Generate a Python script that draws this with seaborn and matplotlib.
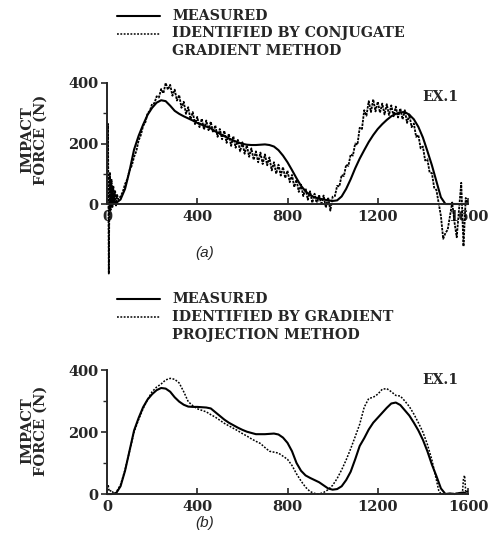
import numpy as np
import pandas as pd
import matplotlib
matplotlib.use("Agg")
import matplotlib.pyplot as plt
from matplotlib.lines import Line2D
import seaborn as sns

# ---------------- data ----------------
# Panel (a): measured force
a_meas_t = [0, 20, 40, 60, 80, 100, 120, 140, 160, 180, 200, 220, 240, 260, 280, 300, 320, 340,
            360, 380, 400, 420, 440, 460, 480, 500, 520, 540, 560, 580, 600, 620, 640, 660, 680,
            700, 720, 740, 760, 780, 800, 820, 840, 860, 880, 900, 920, 940, 960, 980, 1000,
            1020, 1040, 1060, 1080, 1100, 1120, 1140, 1160, 1180, 1200, 1220, 1240, 1260, 1280,
            1300, 1320, 1340, 1360, 1380, 1400, 1420, 1440, 1460, 1480, 1500, 1550, 1600]
a_meas_f = [0, 0, 3, 15, 50, 110, 180, 225, 262, 295, 318, 335, 343, 340, 325, 308, 298, 290,
            283, 276, 268, 262, 256, 250, 240, 232, 225, 217, 210, 204, 199, 196, 195, 195, 196,
            197, 195, 190, 178, 160, 138, 112, 85, 60, 42, 30, 22, 18, 15, 12, 10,
            12, 25, 50, 82, 118, 150, 178, 205, 228, 248, 264, 278, 290, 298,
            303, 304, 295, 280, 255, 220, 175, 128, 75, 22, 0, 0, 0]

# Panel (a): identified by conjugate gradient method (noisy)
a_iden_t_early = [0, 2, 4, 6, 8, 10, 13, 16, 20, 24, 28, 32, 36, 40, 45, 50, 55]
a_iden_f_early = [0, 120, 265, 60, -230, -40, 105, -20, 80, -10, 60, 5, 45, -5, 30, 15, 20]
a_iden_f_main = [  # t = 60 ... 1600 every 10
    25, 40, 66, 82, 112, 127, 156, 175, 210, 228, 258, 270, 300, 308, 331, 333, 356, 352, 380, 366,
    400, 378, 394, 358, 378, 342, 360, 318, 338, 298, 320, 280, 304, 264, 288, 254, 282, 246, 276, 244,
    272, 236, 260, 222, 248, 214, 242, 202, 232, 192, 224, 186, 212, 174, 204, 166, 194, 156, 184, 146,
    174, 138, 170, 132, 164, 128, 154, 111, 138, 100, 130, 94, 122, 86, 110, 72, 96, 56, 80, 40,
    64, 26, 52, 14, 42, 4, 34, 0, 30, -4, 28, -12, 22, -22, 24, 26, 60, 58, 96, 92,
    130, 126, 164, 160, 200, 196, 252, 248, 310, 292, 340, 304, 346, 306, 338, 302, 332, 296, 330, 294,
    326, 290, 322, 286, 316, 280, 310, 268, 296, 254, 266, 222, 228, 184, 190, 144, 148, 104, 102, 54,
    46, 4, -40, -115, -96, -85, -40, 5, -60, -110, -20, 70, -140, 20, 0]

# Panel (b): measured force
b_meas_t = [0, 20, 40, 60, 80, 100, 120, 140, 160, 180, 200, 220, 240, 260, 280, 300, 320, 340,
            360, 380, 400, 420, 440, 460, 480, 500, 520, 540, 560, 580, 600, 620, 640, 660, 680,
            700, 720, 740, 760, 780, 800, 820, 840, 860, 880, 900, 920, 940, 960, 980, 1000,
            1020, 1040, 1060, 1080, 1100, 1120, 1140, 1160, 1180, 1200, 1220, 1240, 1260, 1280,
            1300, 1320, 1340, 1360, 1380, 1400, 1420, 1440, 1460, 1480, 1500, 1520, 1540, 1560,
            1580, 1600]
b_meas_f = [0, 0, 2, 25, 75, 140, 205, 245, 280, 305, 322, 335, 342, 340, 330, 312, 298, 288,
            282, 281, 281, 280, 279, 276, 264, 252, 240, 230, 222, 214, 207, 201, 197, 193, 193,
            193, 194, 195, 192, 182, 165, 138, 100, 75, 60, 52, 45, 38, 28, 18, 14,
            16, 25, 45, 72, 112, 155, 180, 208, 230, 246, 262, 278, 292, 295,
            287, 270, 253, 230, 205, 175, 138, 95, 58, 18, 0, 2, 0, 3,
            5, 0]

# Panel (b): identified by gradient projection method
b_iden_t = [0, 5, 10, 20, 30, 40, 60, 80, 100, 120, 140, 160, 180, 200, 220, 240, 260, 280, 300,
            320, 340, 360, 380, 400, 420, 440, 460, 480, 500, 520, 540, 560, 580, 600, 620, 640,
            660, 680, 700, 720, 740, 760, 780, 800, 820, 840, 860, 880, 900, 920, 940, 960, 980,
            1000, 1020, 1040, 1060, 1080, 1100, 1120, 1140, 1160, 1180, 1200, 1220, 1240, 1260,
            1280, 1300, 1320, 1340, 1360, 1380, 1400, 1420, 1440, 1460, 1470, 1480, 1500, 1560,
            1575, 1580, 1585, 1590, 1600]
b_iden_f = [0, 30, 8, 12, 2, 5, 30, 78, 138, 200, 240, 275, 305, 330, 345, 355, 368, 373, 370,
            358, 330, 298, 285, 275, 270, 265, 256, 248, 238, 228, 220, 212, 204, 195, 187, 178,
            170, 163, 150, 138, 135, 132, 122, 112, 92, 65, 42, 22, 8, 2, 0, 5, 14,
            28, 50, 78, 110, 146, 185, 225, 280, 308, 312, 322, 338, 340, 330,
            318, 316, 300, 282, 258, 230, 200, 160, 110, 45, 12, 0, 0, 2,
            0, 50, 60, 5, 10]

x_ticks = [0, 400, 800, 1200, 1600]
y_ticks = [0, 200, 400]
legend_a = ["MEASURED", "IDENTIFIED BY CONJUGATE", "GRADIENT METHOD"]
legend_b = ["MEASURED", "IDENTIFIED BY GRADIENT", "PROJECTION METHOD"]
y_label = "IMPACT\nFORCE (N)"

# ---------------- figure ----------------
sns.set_theme(style="ticks")
plt.rcParams["font.family"] = ["DejaVu Serif"]
plt.rcParams["font.weight"] = "bold"

W, H = 499, 550
fig = plt.figure(figsize=(W / 100, H / 100), dpi=100)
fig.patch.set_facecolor("white")


def ax_rect(left_px, right_px, top_px, bottom_px):
    return [left_px / W, 1 - bottom_px / H, (right_px - left_px) / W, (bottom_px - top_px) / H]


ax_a = fig.add_axes(ax_rect(107, 468, 83, 276.6))
ax_b = fig.add_axes(ax_rect(107, 468, 370, 496.5))

a_iden_t = a_iden_t_early + list(range(60, 1601, 10))
a_iden_f = a_iden_f_early + a_iden_f_main

df_a_m = pd.DataFrame({"t": a_meas_t, "f": a_meas_f})
df_a_i = pd.DataFrame({"t": a_iden_t, "f": a_iden_f})
df_b_m = pd.DataFrame({"t": b_meas_t, "f": b_meas_f})
df_b_i = pd.DataFrame({"t": b_iden_t, "f": b_iden_f})

dotted = (0, (1.2, 1.0))
dense_dotted = (0, (1.4, 0.6))
for ax, dm, di, ls, lwi in [(ax_a, df_a_m, df_a_i, dense_dotted, 1.3),
                            (ax_b, df_b_m, df_b_i, dotted, 1.1)]:
    sns.lineplot(data=dm, x="t", y="f", ax=ax, color="black", lw=1.5,
                 estimator=None, sort=False, clip_on=False)
    sns.lineplot(data=di, x="t", y="f", ax=ax, color="black", lw=lwi,
                 linestyle=ls, estimator=None, sort=False, clip_on=False)

ax_a.set_ylim(-240, 400)
ax_b.set_ylim(-8, 400)

for ax in (ax_a, ax_b):
    ax.set_facecolor("none")
    ax.set_xlim(0, 1600)
    ax.set_xlabel("")
    ax.set_ylabel("")
    ax.spines["top"].set_visible(False)
    ax.spines["right"].set_visible(False)
    ax.spines["left"].set_bounds(0, 400)
    ax.spines["bottom"].set_position(("data", 0))
    ax.spines["left"].set_linewidth(1.4)
    ax.spines["bottom"].set_linewidth(1.4)
    ax.set_xticks(x_ticks)
    ax.set_xticklabels([str(v) for v in x_ticks])
    ax.set_yticks(y_ticks)
    ax.set_yticklabels([str(v) for v in y_ticks])
    ax.set_yticks([100, 300], minor=True)
    ax.tick_params(axis="x", direction="in", length=4, width=1.2, pad=4, labelsize=10.5)
    ax.tick_params(axis="y", direction="out", length=4, width=1.2, pad=2, labelsize=10.5)
    ax.tick_params(axis="y", which="minor", direction="out", length=3, width=1.0)
    for lab in ax.get_xticklabels() + ax.get_yticklabels():
        lab.set_fontweight("bold")

# EX.1 labels
fig.text(440 / W, 1 - 97 / H, "EX.1", ha="center", va="center", fontsize=10, fontweight="bold")
fig.text(440 / W, 1 - 380 / H, "EX.1", ha="center", va="center", fontsize=10, fontweight="bold")

# y labels
for yc in (140, 431):
    fig.text(34 / W, 1 - yc / H, y_label, rotation=90, ha="center", va="center",
             multialignment="center", fontsize=10.5, fontweight="bold", linespacing=0.95)

# panel captions
fig.text(205 / W, 1 - 253 / H, "(a)", ha="center", va="center", fontsize=11,
         family="Liberation Sans", style="italic", fontweight="normal")
fig.text(205 / W, 1 - 523 / H, "(b)", ha="center", va="center", fontsize=11,
         family="Liberation Sans", style="italic", fontweight="normal")


# legends
def draw_legend(rows_px, texts):
    fig.add_artist(Line2D([117 / W, 160 / W], [1 - rows_px[0] / H] * 2, color="black", lw=1.5,
                          transform=fig.transFigure))
    fig.add_artist(Line2D([117 / W, 160 / W], [1 - rows_px[1] / H] * 2, color="black", lw=1.1,
                          linestyle=dotted, transform=fig.transFigure))
    for r, t in zip(rows_px, texts):
        fig.text(172 / W, 1 - r / H, t, ha="left", va="center", fontsize=10.3, fontweight="bold")


draw_legend([16, 33.5, 51], legend_a)
draw_legend([299, 317, 335], legend_b)

fig.savefig("out.png", dpi=100, facecolor="white")
